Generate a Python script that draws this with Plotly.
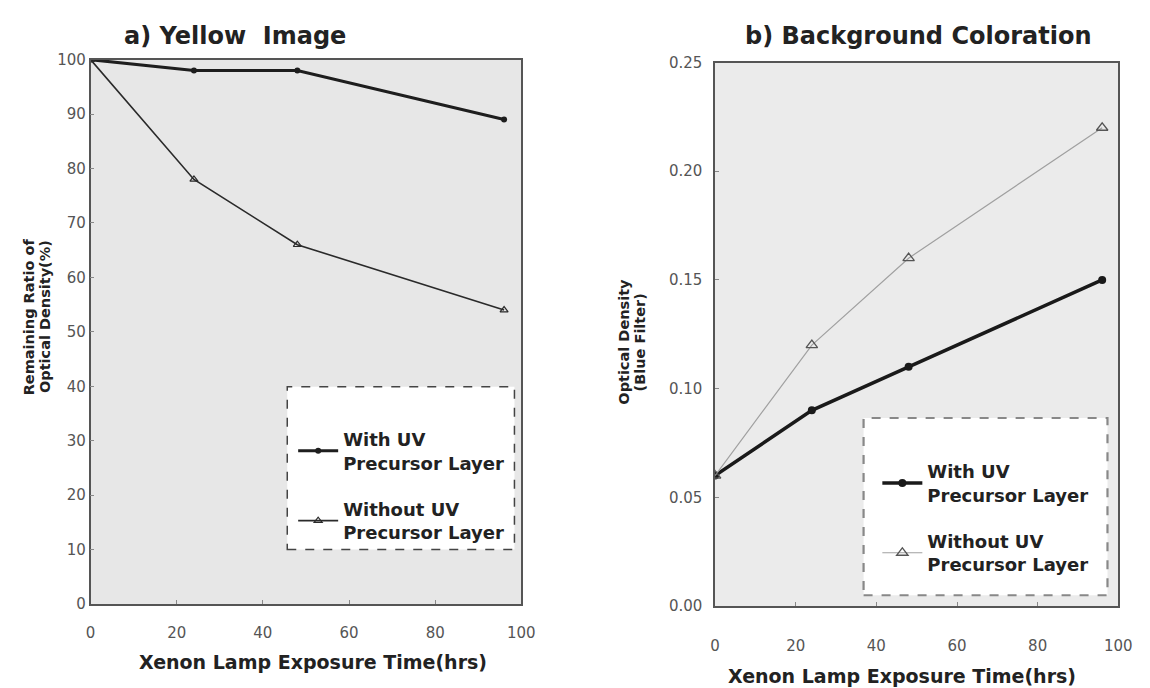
import plotly.graph_objects as go

hours = [0, 24, 48, 96]
yellow_with = [100, 98, 98, 89]
yellow_without = [100, 78, 66, 54]
bg_with = [0.06, 0.09, 0.11, 0.15]
bg_without = [0.06, 0.12, 0.16, 0.22]

name_with = "With UV<br>Precursor Layer"
name_without = "Without UV<br>Precursor Layer"

W, H = 1150, 688
def px(x): return x / W
def py(y): return 1 - y / H

FONT = "DejaVu Sans, Verdana, sans-serif"

fig = go.Figure()
fig.add_trace(go.Scatter(x=hours, y=yellow_with, name=name_with, mode="lines+markers",
                         line=dict(color="#1e1e1e", width=3), marker=dict(symbol="circle", size=6, color="#1e1e1e"),
                         xaxis="x", yaxis="y", legend="legend", legendgroup="a1"))
fig.add_trace(go.Scatter(x=hours, y=yellow_without, name=name_without, mode="lines+markers",
                         line=dict(color="#2a2a2a", width=1.6), marker=dict(symbol="triangle-up-open", size=7, color="#2a2a2a", line=dict(width=1.2)),
                         xaxis="x", yaxis="y", legend="legend", legendgroup="a2"))
fig.add_trace(go.Scatter(x=hours, y=bg_with, name=name_with, mode="lines+markers",
                         line=dict(color="#1a1a1a", width=3.5), marker=dict(symbol="circle", size=8, color="#1a1a1a"),
                         xaxis="x2", yaxis="y2", legend="legend2", legendgroup="b1"))
fig.add_trace(go.Scatter(x=hours, y=bg_without, name=name_without, mode="lines+markers",
                         line=dict(color="#a0a0a0", width=1.2), marker=dict(symbol="triangle-up-open", size=10, color="#555", line=dict(width=1.3)),
                         xaxis="x2", yaxis="y2", legend="legend2", legendgroup="b2"))

axis_common = dict(showgrid=False, zeroline=False, showline=True, linecolor="#555", linewidth=1.5, mirror=True,
                   ticks="inside", ticklen=4, tickcolor="#888",
                   tickfont=dict(family=FONT, size=15, color="#555"))

leg_font = dict(family=FONT, size=18, color="#222", weight="bold")

fig.update_layout(
    width=W, height=H, margin=dict(l=0, r=0, t=0, b=0),
    paper_bgcolor="white", plot_bgcolor="#e7e7e7",
    font=dict(family=FONT),
    xaxis=dict(domain=[px(87), px(525)], range=[0, 100], dtick=20, anchor="y", ticklabelstandoff=14, **axis_common),
    yaxis=dict(domain=[py(611), py(52)], range=[0, 100], dtick=10, anchor="x", ticklabelstandoff=0, **axis_common),
    xaxis2=dict(domain=[px(722), px(1132)], range=[0, 100], dtick=20, anchor="y2", ticklabelstandoff=25, **axis_common),
    yaxis2=dict(domain=[py(613), py(55)], range=[0, 0.25], dtick=0.05, tickformat=".2f", anchor="x2", ticklabelstandoff=8, **axis_common),
    legend=dict(x=px(293), y=py(423), xanchor="left", yanchor="top", bgcolor="rgba(0,0,0,0)",
                traceorder="grouped", tracegroupgap=20, itemwidth=40, font=leg_font),
    legend2=dict(x=px(887), y=py(456), xanchor="left", yanchor="top", bgcolor="rgba(0,0,0,0)",
                 traceorder="grouped", tracegroupgap=20, itemwidth=40, font=leg_font),
)

# slightly lighter background on the right panel
fig.add_shape(type="rect", xref="x2 domain", yref="y2 domain", x0=0, x1=1, y0=0, y1=1,
              fillcolor="#ebebeb", line=dict(width=0), layer="below")

# legend dashed frames
fig.add_shape(type="rect", xref="paper", yref="paper", x0=px(287), x1=px(518), y0=py(555), y1=py(388),
              fillcolor="white", line=dict(color="#444", width=1.5, dash="dash"), layer="below")
fig.add_shape(type="rect", xref="paper", yref="paper", x0=px(873), x1=px(1121), y0=py(602), y1=py(420),
              fillcolor="white", line=dict(color="#888", width=2.2, dash="dash"), layer="below")

def note(text, x, y, size, angle=0):
    return dict(text=text, x=px(x), y=py(y), xref="paper", yref="paper", xanchor="center", yanchor="middle",
                textangle=angle, showarrow=False, font=dict(family=FONT, size=size, color="#222"))

ann = [
    note("<b>a) Yellow\u00a0 Image</b>", 234, 28, 24),
    note("<b>b) Background Coloration</b>", 929, 28, 24),
    note("<b>Xenon Lamp Exposure Time(hrs)</b>", 313, 671, 19),
    note("<b>Xenon Lamp Exposure Time(hrs)</b>", 912, 685, 19),
    note("<b>Remaining Ratio of</b>", 24, 316, 14.5, -90),
    note("<b>Optical Density(%)</b>", 40, 316, 14.5, -90),
    note("<b>Optical Density</b>", 629, 342, 14.5, -90),
    note("<b>(Blue Filter)</b>", 646, 342, 14.5, -90),
]
fig.update_layout(annotations=ann)

fig.write_html("out.html")
